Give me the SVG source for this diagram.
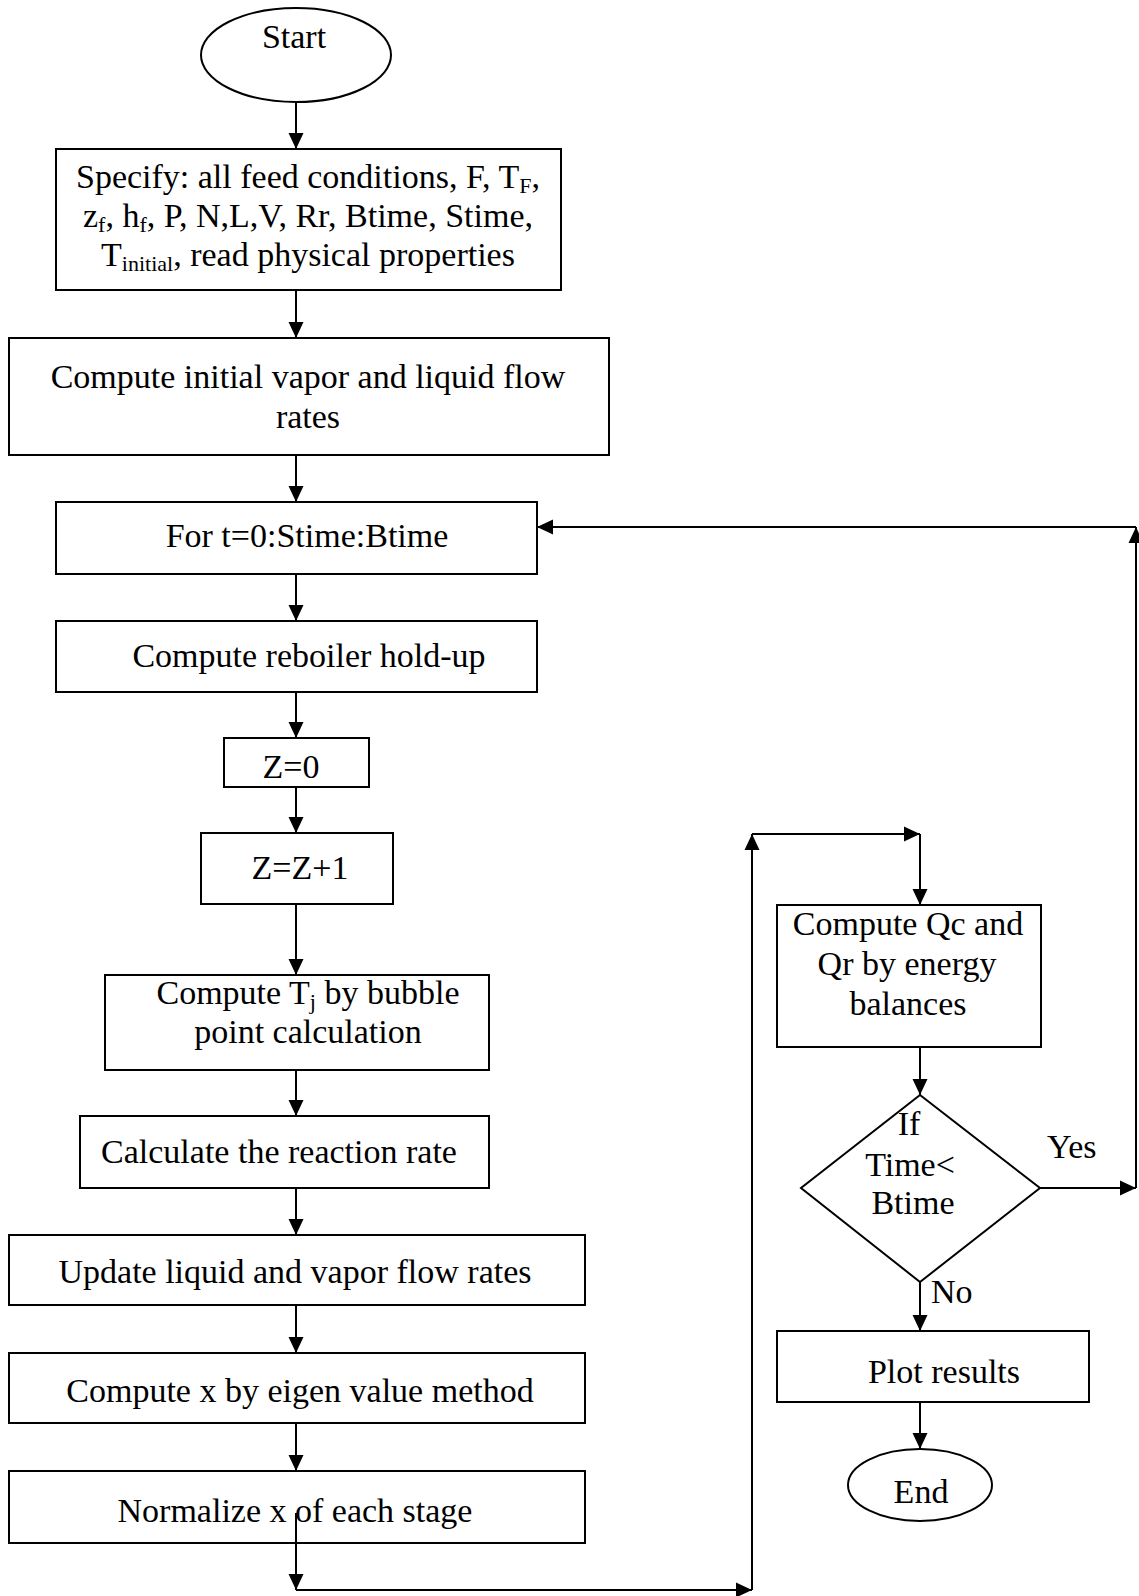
<svg xmlns="http://www.w3.org/2000/svg" width="1139" height="1596" viewBox="0 0 1139 1596">
  <defs>
    <marker id="arrow" markerUnits="userSpaceOnUse" markerWidth="17" markerHeight="16" refX="16" refY="8" orient="auto">
      <path d="M0,0.5 L16,8 L0,15.5 z" fill="#000"/>
    </marker>
    <style>
      .shape { fill: #fff; stroke: #000; stroke-width: 2; }
      .conn { fill: none; stroke: #000; stroke-width: 2; marker-end: url(#arrow); }
      text { font-family: "Liberation Serif", "Times New Roman", serif; font-size: 34px; fill: #000; }
      .c { text-anchor: middle; }
      .sub { font-size: 22px; }
    </style>
  </defs>
  <rect width="1139" height="1596" fill="#fff"/>

  <!-- nodes -->
  <g id="start">
    <ellipse class="shape" cx="296" cy="55" rx="95" ry="47"/>
    <text class="c" x="294" y="48">Start</text>
  </g>

  <g id="specify">
    <rect class="shape" x="56" y="149" width="505" height="141"/>
    <text class="c" x="308" y="188">Specify: all feed conditions, F, T<tspan class="sub" dy="5">F</tspan><tspan dy="-5">,</tspan></text>
    <text class="c" x="308" y="227">z<tspan class="sub" dy="5">f</tspan><tspan dy="-5">, h</tspan><tspan class="sub" dy="5">f</tspan><tspan dy="-5">, P, N,L,V, Rr, Btime, Stime,</tspan></text>
    <text class="c" x="308" y="266">T<tspan class="sub" dy="5">initial</tspan><tspan dy="-5">, read physical properties</tspan></text>
  </g>

  <g id="init-flows">
    <rect class="shape" x="9" y="338" width="600" height="117"/>
    <text class="c" x="308" y="388">Compute initial vapor and liquid flow</text>
    <text class="c" x="308" y="428">rates</text>
  </g>

  <g id="time-loop">
    <rect class="shape" x="56" y="502" width="481" height="72"/>
    <text class="c" x="307" y="547">For t=0:Stime:Btime</text>
  </g>

  <g id="reboiler">
    <rect class="shape" x="56" y="621" width="481" height="71"/>
    <text class="c" x="309" y="667">Compute reboiler hold-up</text>
  </g>

  <g id="z-init">
    <rect class="shape" x="224" y="738" width="145" height="49"/>
    <text class="c" x="291" y="778">Z=0</text>
  </g>

  <g id="z-inc">
    <rect class="shape" x="201" y="833" width="192" height="71"/>
    <text class="c" x="300" y="879">Z=Z+1</text>
  </g>

  <g id="bubble-point">
    <rect class="shape" x="105" y="975" width="384" height="95"/>
    <text class="c" x="308" y="1004">Compute T<tspan class="sub" dy="5">j</tspan><tspan dy="-5"> by bubble</tspan></text>
    <text class="c" x="308" y="1043">point calculation</text>
  </g>

  <g id="reaction-rate">
    <rect class="shape" x="80" y="1116" width="409" height="72"/>
    <text class="c" x="279" y="1163">Calculate the reaction rate</text>
  </g>

  <g id="update-flows">
    <rect class="shape" x="9" y="1235" width="576" height="70"/>
    <text class="c" x="295" y="1283">Update liquid and vapor flow rates</text>
  </g>

  <g id="eigen">
    <rect class="shape" x="9" y="1353" width="576" height="70"/>
    <text class="c" x="300" y="1402">Compute x by eigen value method</text>
  </g>

  <g id="normalize">
    <rect class="shape" x="9" y="1471" width="576" height="72"/>
    <text class="c" x="295" y="1522">Normalize x of each stage</text>
  </g>

  <g id="energy">
    <rect class="shape" x="777" y="905" width="264" height="142"/>
    <text class="c" x="908" y="935">Compute Qc and</text>
    <text class="c" x="907" y="975">Qr by energy</text>
    <text class="c" x="908" y="1015">balances</text>
  </g>

  <g id="decision">
    <polygon class="shape" points="920,1095 1040,1188 920,1282 801,1188"/>
    <text class="c" x="909" y="1135">If</text>
    <text class="c" x="910" y="1176">Time&lt;</text>
    <text class="c" x="913" y="1214">Btime</text>
  </g>

  <g id="plot">
    <rect class="shape" x="777" y="1331" width="312" height="71"/>
    <text class="c" x="944" y="1383">Plot results</text>
  </g>

  <g id="end">
    <ellipse class="shape" cx="920" cy="1485" rx="72" ry="36"/>
    <text class="c" x="921" y="1503">End</text>
  </g>

  <!-- connectors -->
  <g id="connectors">
    <line class="conn" x1="296" y1="102" x2="296" y2="149"/>
    <line class="conn" x1="296" y1="290" x2="296" y2="338"/>
    <line class="conn" x1="296" y1="455" x2="296" y2="502"/>
    <line class="conn" x1="296" y1="574" x2="296" y2="621"/>
    <line class="conn" x1="296" y1="692" x2="296" y2="738"/>
    <line class="conn" x1="296" y1="787" x2="296" y2="833"/>
    <line class="conn" x1="296" y1="904" x2="296" y2="975"/>
    <line class="conn" x1="296" y1="1070" x2="296" y2="1116"/>
    <line class="conn" x1="296" y1="1188" x2="296" y2="1235"/>
    <line class="conn" x1="296" y1="1305" x2="296" y2="1353"/>
    <line class="conn" x1="296" y1="1423" x2="296" y2="1471"/>
    <line class="conn" x1="296" y1="1513" x2="296" y2="1590"/>
    <line class="conn" x1="296" y1="1590" x2="752" y2="1590"/>
    <line class="conn" x1="752" y1="1590" x2="752" y2="834"/>
    <line class="conn" x1="752" y1="834" x2="920" y2="834"/>
    <line class="conn" x1="920" y1="834" x2="920" y2="905"/>
    <line class="conn" x1="920" y1="1047" x2="920" y2="1095"/>
    <line class="conn" x1="1040" y1="1188" x2="1136" y2="1188"/>
    <line class="conn" x1="1136" y1="1188" x2="1136" y2="527"/>
    <line class="conn" x1="1136" y1="527" x2="537" y2="527"/>
    <line class="conn" x1="920" y1="1282" x2="920" y2="1331"/>
    <line class="conn" x1="920" y1="1402" x2="920" y2="1449"/>
    <text x="1047" y="1158">Yes</text>
    <text x="931" y="1303">No</text>
  </g>
</svg>
